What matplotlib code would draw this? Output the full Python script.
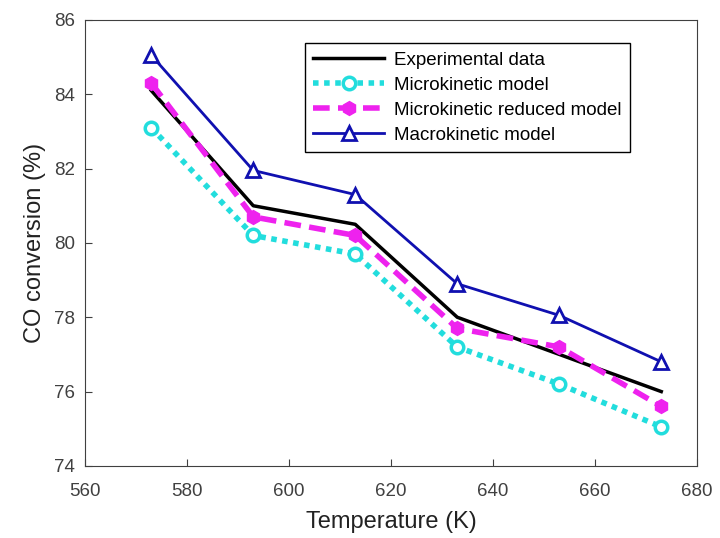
import matplotlib.pyplot as plt

plt.rcParams['font.family'] = ['Liberation Sans', 'DejaVu Sans']

temperature = [573, 593, 613, 633, 653, 673]
experimental = [84.1, 81.0, 80.5, 78.0, 77.0, 76.0]
microkinetic = [83.1, 80.2, 79.7, 77.2, 76.2, 75.05]
micro_reduced = [84.3, 80.7, 80.2, 77.7, 77.2, 75.6]
macrokinetic = [85.05, 81.95, 81.3, 78.9, 78.05, 76.8]

fig = plt.figure(figsize=(7.2, 5.38), dpi=100)
ax = fig.add_axes([0.118, 0.134, 0.85, 0.829])

ax.plot(temperature, experimental, '-', color='black', lw=2.5, label='Experimental data')
ax.plot(temperature, microkinetic, color='#22dddd', lw=4, ls=(0, (1, 1)), marker='o', ms=9,
        mec='#22dddd', mfc='white', mew=2.5, label='Microkinetic model')
ax.plot(temperature, micro_reduced, color='#ee22ee', lw=4, ls=(0, (3, 1.5)), marker='h', ms=10,
        mec='#ee22ee', mfc='#ee22ee', label='Microkinetic reduced model')
ax.plot(temperature, macrokinetic, '-', color='#1010b0', lw=2, marker='^', ms=10,
        mec='#1010b0', mfc='white', mew=2, label='Macrokinetic model')

ax.set_xlim(560, 680)
ax.set_ylim(74, 86)
ax.set_xticks(range(560, 681, 20))
ax.set_yticks(range(74, 87, 2))
ax.tick_params(labelsize=13.5, direction='in', length=5, pad=7, colors='#404040',
               top=False, right=False)
ax.tick_params(axis='x', pad=12)
for s in ax.spines.values():
    s.set_color('#404040')
ax.set_xlabel('Temperature (K)', fontsize=17, color='#222222', labelpad=8)
ax.set_ylabel('CO conversion (%)', fontsize=17, color='#222222', labelpad=6)

leg = ax.legend(loc='upper right', bbox_to_anchor=(0.89, 0.948), borderaxespad=0,
                fontsize=13.5, fancybox=False, edgecolor='black', framealpha=1,
                handlelength=3.8, borderpad=0.45, labelspacing=0.42, handletextpad=0.5)
leg.get_frame().set_linewidth(1)

plt.savefig('out.png', dpi=100)
